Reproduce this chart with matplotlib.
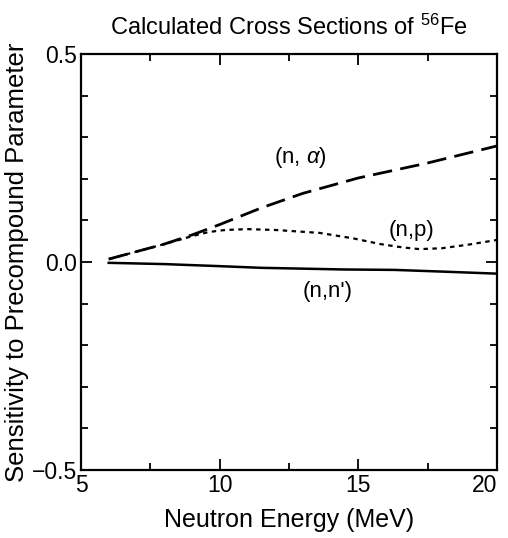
import matplotlib.pyplot as plt
import numpy as np
from matplotlib.ticker import MultipleLocator

plt.rcParams['font.family'] = ['Liberation Sans', 'DejaVu Sans']
plt.rcParams['mathtext.fontset'] = 'custom'
plt.rcParams['mathtext.rm'] = 'Liberation Sans'
plt.rcParams['mathtext.it'] = 'Liberation Sans:italic'

# Curvas
e_alpha = [6.0, 7.0, 8.0, 9.0, 10.0, 11.5, 13.0, 15.0, 17.5, 20.0]
s_alpha = [0.007, 0.025, 0.043, 0.065, 0.090, 0.130, 0.165, 0.202, 0.238, 0.279]

e_p = [6.0, 7.0, 8.0, 9.0, 9.6, 10.2, 11.0, 12.0, 13.6, 14.8, 15.8, 16.6, 17.2, 18.0, 19.0, 20.0]
s_p = [0.007, 0.025, 0.043, 0.062, 0.072, 0.077, 0.079, 0.077, 0.070, 0.057, 0.043, 0.035, 0.031, 0.033, 0.042, 0.053]

e_nn = [6.0, 8.0, 10.0, 11.5, 13.0, 14.5, 16.3, 18.0, 20.0]
s_nn = [-0.002, -0.005, -0.010, -0.014, -0.016, -0.018, -0.019, -0.023, -0.028]

fig = plt.figure(figsize=(5.08, 5.38), dpi=100)
ax = fig.add_axes([81/508, 1 - 470/538, 416/508, 416/538])

ax.plot(e_nn, s_nn, color='black', lw=1.8, ls='-')
ax.plot(e_p, s_p, color='black', lw=1.6, ls=(0, (2, 2)))
ax.plot(e_alpha, s_alpha, color='black', lw=2.0, ls=(0, (7, 3)))

ax.text(12.9, 0.25, r'(n, $\alpha$)', fontsize=16, ha='center', va='center')
ax.text(16.9, 0.075, '(n,p)', fontsize=16, ha='center', va='center')
ax.text(13.9, -0.072, "(n,n')", fontsize=16, ha='center', va='center')

ax.set_xlim(5, 20)
ax.set_ylim(-0.5, 0.5)
ax.set_xticks([5, 10, 15, 20])
ax.set_yticks([-0.5, 0.0, 0.5])
ax.set_yticklabels(['\u22120.5', '0.0', '0.5'])
ax.xaxis.set_minor_locator(MultipleLocator(2.5))
ax.yaxis.set_minor_locator(MultipleLocator(0.1))
ax.tick_params(which='both', direction='in', top=True, right=True, labelsize=16.5, width=1.3)
ax.tick_params(which='major', length=8, pad=3)
ax.tick_params(which='minor', length=5)
ax.xaxis.get_major_ticks()[-1].label1.set_horizontalalignment('right')
for sp in ax.spines.values():
    sp.set_linewidth(1.6)

ax.set_xlabel('Neutron Energy (MeV)', fontsize=18, labelpad=8)
ax.set_ylabel('Sensitivity to Precompound Parameter', fontsize=18.5, labelpad=2)
ax.set_title(r'Calculated Cross Sections of $^{56}$Fe', fontsize=17, pad=14)

fig.savefig('out.png', dpi=100)
